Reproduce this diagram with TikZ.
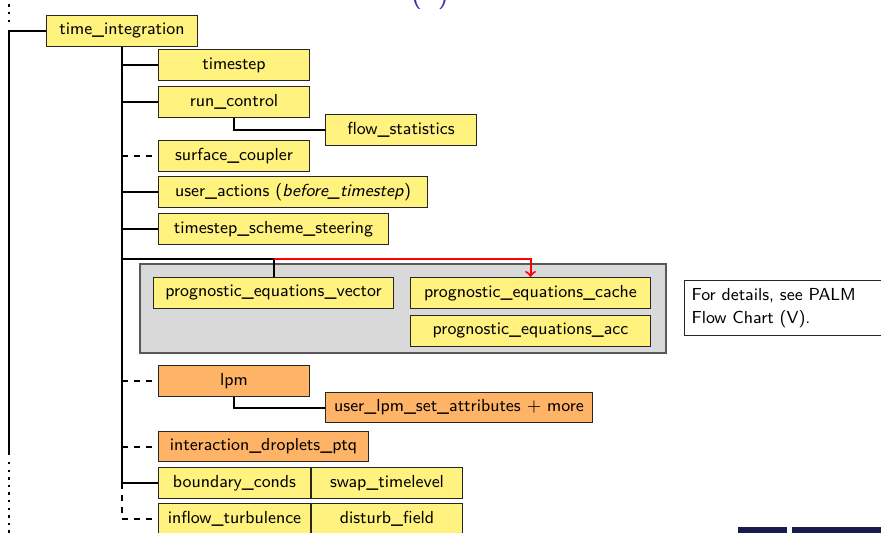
\documentclass[tikz,border=0pt]{standalone}
\usepackage{tikz}
\usetikzlibrary{arrows, calc, positioning}
\definecolor{boxyellow}{HTML}{FFF27F}
\definecolor{boxorange}{HTML}{FFB366}
\definecolor{groupgray}{HTML}{D9D9D9}
\definecolor{titleblue}{HTML}{3333B3}
\definecolor{footblue}{HTML}{1A1A4D}
\tikzset{
    my-box/.style={
        draw=black!85, fill=boxyellow, line width=0.5pt, inner sep=0pt,
        minimum width=75.5pt, minimum height=15.5pt, anchor=north west,
        font=\sffamily\fontsize{8.7}{10}\selectfont
    },
    my-lpm-box/.style={
        my-box, fill=boxorange
    },
    my-wire/.style={
        line width=1pt
    },
    my-opt-wire/.style={
        my-wire, dash pattern=on 3pt off 3pt
    },
}
\begin{document}
\begin{tikzpicture}[x=0.5pt, y=-0.5pt]

        % PAGE
        \useasboundingbox (0,0) rectangle (881,532);
        \clip (0,0) rectangle (881,532);

        % SLIDE DECORATION
        \node[titleblue, anchor=base, font=\sffamily\fontsize{14}{16}\selectfont] (TITLE) at (430,2) {(\hspace{8pt})};
        \fill[footblue] (738,527) rectangle (787,534);
        \fill[footblue] (792,527) rectangle (881,534);

        % CALLING ROUTINE
        \node[my-box, minimum width=75.5pt] (TIMEINT) at (46,15) {time\_integration};

        % FIRST LEVEL
        \node[my-box] (TIMESTEP) at (158,49)  {timestep};
        \node[my-box] (RUNCTRL)  at (158,86)  {run\_control};
        \node[my-box] (SURFCPL)  at (158,140) {surface\_coupler};
        \node[my-box, minimum width=134.5pt] (USERACT)  at (158,176) {user\_actions (\textit{before\_timestep})};
        \node[my-box, minimum width=115pt]   (TSSCHEME) at (158,213) {timestep\_scheme\_steering};

        % SECOND LEVEL
        \node[my-box] (FLOWSTAT) at (325,114) {flow\_statistics};

        % PROGNOSTIC EQUATIONS GROUP
        \draw[fill=groupgray, draw=black!65, line width=0.75pt] (140,264) rectangle (666,353);
        \node[my-box, minimum width=120pt] (PEVEC)   at (153,277) {prognostic\_equations\_vector};
        \node[my-box, minimum width=120pt] (PECACHE) at (410,277) {prognostic\_equations\_cache};
        \node[my-box, minimum width=120pt] (PEACC)   at (410,315) {prognostic\_equations\_acc};
        \node[draw=black!85, fill=white, line width=0.5pt, anchor=north west, align=left,
              inner sep=3.5pt, minimum height=27.5pt, text width=120pt,
              font=\sffamily\fontsize{8.7}{11.5}\selectfont] (NOTE) at (684,280)
              {For details, see PALM\\Flow Chart (V).};

        % LAGRANGIAN PARTICLES
        \node[my-lpm-box] (LPM) at (158,365) {lpm};
        \node[my-lpm-box, minimum width=133.5pt, minimum height=15pt] (USERLPM) at (325,392) {user\_lpm\_set\_attributes $+$ more};
        \node[my-lpm-box, minimum width=105pt, minimum height=15pt]  (DROPLETS) at (158,431) {interaction\_droplets\_ptq};

        % BOUNDARIES AND INFLOW
        \node[my-box, minimum width=76pt]  (BCOND)   at (158,467)          {boundary\_conds};
        \node[my-box]                      (SWAP)    at (BCOND.north east) {swap\_timelevel};
        \node[my-box, minimum width=76pt]  (INFLOW)  at (158,503)          {inflow\_turbulence};
        \node[my-box]                      (DISTURB) at (INFLOW.north east) {disturb\_field};

        % OUTER LOOP
        \coordinate (LOOPTOP) at (9,22);
        \coordinate (LOOPBOT) at (9,455);
        \draw[my-wire] (TIMEINT.west) -| (LOOPTOP |- TIMEINT.west) -- (LOOPBOT);
        \draw[line width=1pt, dash pattern=on 1.2pt off 2.6pt] (LOOPTOP |- TIMEINT.west) ++(0,-9) -- (9,2);
        \draw[line width=1pt, dash pattern=on 1.2pt off 2.6pt] (LOOPBOT) ++(0,7) -- (9,534);

        % TRUNK
        \coordinate (TRUNK) at (TIMEINT.south);
        \draw[my-wire] (TRUNK) -- (TRUNK |- BCOND.west);
        \draw[my-opt-wire] (TRUNK |- BCOND.west) -- (TRUNK |- INFLOW.west) -- (INFLOW.west);

        % BRANCHES
        \draw[my-wire] (TRUNK |- TIMESTEP.west) -- (TIMESTEP.west);
        \draw[my-wire] (TRUNK |- RUNCTRL.west)  -- (RUNCTRL.west);
        \draw[my-wire] (TRUNK |- USERACT.west)  -- (USERACT.west);
        \draw[my-wire] (TRUNK |- TSSCHEME.west) -- (TSSCHEME.west);
        \draw[my-wire] (TRUNK |- BCOND.west)    -- (BCOND.west);
        \draw[my-opt-wire] (TRUNK |- SURFCPL.west)  -- (SURFCPL.west);
        \draw[my-opt-wire] (TRUNK |- LPM.west)      -- (LPM.west);
        \draw[my-opt-wire] (TRUNK |- DROPLETS.west) -- (DROPLETS.west);
        \draw[my-wire] (RUNCTRL.south) |- (FLOWSTAT.west);
        \draw[my-wire] (LPM.south) |- (USERLPM.west);

        % PROGNOSTIC FORK
        \coordinate (PEFORK) at ($(PEVEC.north) + (0,-18)$);
        \draw[my-wire] (TRUNK |- PEFORK) -- (PEFORK) -- (PEVEC.north);
        \draw[my-wire, red, ->] (PEFORK) -| (PECACHE.north);

    \end{tikzpicture}
\end{document}
